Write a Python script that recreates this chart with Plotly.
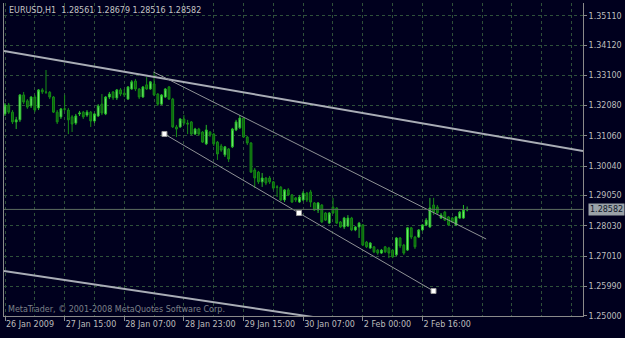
import plotly.graph_objects as go

# ---------------- data (EURUSD H1) ----------------
opens = [1.3180, 1.3210, 1.3186, 1.3153, 1.3160, 1.3244, 1.3224, 1.3207, 1.3237, 1.3200,
         1.3261, 1.3254, 1.3253, 1.3237, 1.3186, 1.3170, 1.3197, 1.3193, 1.3170, 1.3149,
         1.3180, 1.3186, 1.3176, 1.3186, 1.3156, 1.3173, 1.3213, 1.3180, 1.3237, 1.3254,
         1.3234, 1.3261, 1.3250, 1.3230, 1.3264, 1.3291, 1.3264, 1.3237, 1.3278, 1.3264,
         1.3281, 1.3247, 1.3213, 1.3237, 1.3271, 1.3230, 1.3136, 1.3136, 1.3163, 1.3149,
         1.3153, 1.3112, 1.3129, 1.3119, 1.3079, 1.3119, 1.3112, 1.3085, 1.3072, 1.3042,
         1.3062, 1.3069, 1.3126, 1.3133, 1.3166, 1.3102, 1.3082, 1.2991, 1.2984, 1.2951,
         1.2964, 1.2964, 1.2951, 1.2934, 1.2933, 1.2890, 1.2924, 1.2907, 1.2897, 1.2883,
         1.2890, 1.2913, 1.2917, 1.2880, 1.2856, 1.2873, 1.2846, 1.2812, 1.2866, 1.2863,
         1.2816, 1.2799, 1.2802, 1.2829, 1.2789, 1.2799, 1.2806, 1.2748, 1.2728, 1.2732,
         1.2721, 1.2711, 1.2732, 1.2728, 1.2721, 1.2705, 1.2762, 1.2738, 1.2721, 1.2796,
         1.2765, 1.2765, 1.2789, 1.2806, 1.2799, 1.2873, 1.2866, 1.2829, 1.2849, 1.2833,
         1.2829, 1.2806, 1.2829, 1.2829, 1.28561]
highs = [1.3217, 1.3217, 1.3193, 1.3170, 1.3247, 1.3254, 1.3230, 1.3240, 1.3244, 1.3264,
         1.3267, 1.3328, 1.3257, 1.3240, 1.3193, 1.3200, 1.3244, 1.3200, 1.3176, 1.3180,
         1.3190, 1.3190, 1.3193, 1.3190, 1.3183, 1.3213, 1.3247, 1.3240, 1.3254, 1.3257,
         1.3264, 1.3267, 1.3264, 1.3274, 1.3294, 1.3298, 1.3267, 1.3274, 1.3304, 1.3291,
         1.3321, 1.3250, 1.3247, 1.3267, 1.3274, 1.3234, 1.3143, 1.3166, 1.3176, 1.3160,
         1.3156, 1.3133, 1.3133, 1.3122, 1.3143, 1.3122, 1.3116, 1.3089, 1.3079, 1.3072,
         1.3065, 1.3133, 1.3160, 1.3176, 1.3170, 1.3106, 1.3085, 1.2998, 1.2988, 1.2981,
         1.2967, 1.2971, 1.2954, 1.2940, 1.2937, 1.2927, 1.2930, 1.2910, 1.2900, 1.2907,
         1.2920, 1.2917, 1.2924, 1.2883, 1.2883, 1.2876, 1.2849, 1.2849, 1.2897, 1.2866,
         1.2819, 1.2833, 1.2839, 1.2833, 1.2802, 1.2816, 1.2809, 1.2752, 1.2748, 1.2735,
         1.2725, 1.2725, 1.2735, 1.2732, 1.2725, 1.2765, 1.2765, 1.2742, 1.2799, 1.2799,
         1.2769, 1.2792, 1.2809, 1.2829, 1.2897, 1.2897, 1.2873, 1.2846, 1.2853, 1.2836,
         1.2833, 1.2836, 1.2853, 1.2873, 1.28679]
lows = [1.3173, 1.3180, 1.3146, 1.3129, 1.3153, 1.3213, 1.3197, 1.3200, 1.3186, 1.3193,
        1.3247, 1.3247, 1.3230, 1.3183, 1.3146, 1.3163, 1.3190, 1.3112, 1.3119, 1.3143,
        1.3173, 1.3163, 1.3170, 1.3136, 1.3149, 1.3170, 1.3176, 1.3176, 1.3230, 1.3227,
        1.3227, 1.3240, 1.3237, 1.3227, 1.3261, 1.3257, 1.3230, 1.3234, 1.3261, 1.3261,
        1.3240, 1.3207, 1.3210, 1.3234, 1.3227, 1.3133, 1.3102, 1.3133, 1.3143, 1.3112,
        1.3109, 1.3109, 1.3106, 1.3082, 1.3075, 1.3102, 1.3072, 1.3025, 1.3052, 1.3035,
        1.3018, 1.3065, 1.3122, 1.3129, 1.3099, 1.3075, 1.2981, 1.2930, 1.2944, 1.2934,
        1.2940, 1.2944, 1.2924, 1.2900, 1.2886, 1.2883, 1.2903, 1.2880, 1.2883, 1.2880,
        1.2886, 1.2883, 1.2866, 1.2853, 1.2846, 1.2812, 1.2819, 1.2809, 1.2843, 1.2809,
        1.2796, 1.2792, 1.2799, 1.2785, 1.2785, 1.2762, 1.2735, 1.2728, 1.2725, 1.2711,
        1.2705, 1.2708, 1.2711, 1.2694, 1.2694, 1.2701, 1.2728, 1.2705, 1.2718, 1.2758,
        1.2725, 1.2762, 1.2785, 1.2802, 1.2796, 1.2839, 1.2843, 1.2826, 1.2819, 1.2802,
        1.2812, 1.2802, 1.2826, 1.2826, 1.28516]
closes = [1.3210, 1.3186, 1.3153, 1.3160, 1.3244, 1.3220, 1.3203, 1.3237, 1.3193, 1.3261,
          1.3254, 1.3253, 1.3237, 1.3186, 1.3153, 1.3197, 1.3196, 1.3160, 1.3146, 1.3173,
          1.3183, 1.3170, 1.3186, 1.3156, 1.3180, 1.3207, 1.3183, 1.3237, 1.3247, 1.3234,
          1.3261, 1.3247, 1.3244, 1.3271, 1.3288, 1.3264, 1.3237, 1.3271, 1.3264, 1.3288,
          1.3244, 1.3213, 1.3244, 1.3264, 1.3230, 1.3136, 1.3129, 1.3163, 1.3149, 1.3146,
          1.3112, 1.3129, 1.3112, 1.3085, 1.3126, 1.3109, 1.3079, 1.3045, 1.3058, 1.3069,
          1.3028, 1.3129, 1.3153, 1.3166, 1.3102, 1.3082, 1.2984, 1.2964, 1.2951, 1.2964,
          1.2947, 1.2951, 1.2930, 1.2933, 1.2890, 1.2924, 1.2907, 1.2883, 1.2890, 1.2900,
          1.2913, 1.2890, 1.2883, 1.2856, 1.2880, 1.2816, 1.2822, 1.2846, 1.2846, 1.2812,
          1.2799, 1.2829, 1.2829, 1.2789, 1.2799, 1.2812, 1.2738, 1.2732, 1.2745, 1.2715,
          1.2711, 1.2721, 1.2715, 1.2711, 1.2698, 1.2762, 1.2735, 1.2711, 1.2796, 1.2765,
          1.2732, 1.2789, 1.2806, 1.2822, 1.2863, 1.2849, 1.2846, 1.2839, 1.2822, 1.2806,
          1.2816, 1.2833, 1.2849, 1.2856, 1.28582]
bar_index = list(range(len(closes)))

time_label_bars = [0, 16, 32, 48, 64, 80, 96, 112]
time_labels = ["26 Jan 2009", "27 Jan 15:00", "28 Jan 07:00", "28 Jan 23:00",
               "29 Jan 15:00", "30 Jan 07:00", "2 Feb 00:00", "2 Feb 16:00"]
grid_bars = [8, 24, 40, 56, 72, 88, 104, 120, 128, 136, 144, 152]
price_ticks = [1.35110, 1.34120, 1.33100, 1.32080, 1.31060, 1.30040,
               1.29050, 1.28030, 1.27010, 1.25990, 1.25000]

# drawn objects (bar index, price)
trend_upper_x = [-0.27, 155.08]
trend_upper_y = [1.33920, 1.30550]
trend_lower_x = [-0.27, 85.0]
trend_lower_y = [1.26506, 1.24912]
chan_upper_x = [39.84, 129.1]
chan_upper_y = [1.33213, 1.27585]
chan_lower_x = [42.78, 78.88, 114.97]
chan_lower_y = [1.31124, 1.28461, 1.25832]

x_range = [-0.27, 155.08]
y_range = [1.24990, 1.35538]

BG = "#00001e"
GRID = "#2f503a"
TXT = "#bdbdbd"
FONT = "DejaVu Sans"

fig = go.Figure()

fig.add_trace(go.Scatter(x=trend_upper_x, y=trend_upper_y, mode="lines",
                         line=dict(color="#a9adb6", width=2), hoverinfo="skip"))
fig.add_trace(go.Scatter(x=trend_lower_x, y=trend_lower_y, mode="lines",
                         line=dict(color="#a9adb6", width=2), hoverinfo="skip"))
fig.add_trace(go.Scatter(x=chan_upper_x, y=chan_upper_y, mode="lines",
                         line=dict(color="#8f9296", width=1), hoverinfo="skip"))

fig.add_trace(go.Candlestick(
    x=bar_index, open=opens, high=highs, low=lows, close=closes,
    increasing=dict(line=dict(color="#26bb26", width=1), fillcolor="#7ef07e"),
    decreasing=dict(line=dict(color="#158c15", width=1), fillcolor="#0b5e0b"),
    whiskerwidth=0, hoverinfo="skip"))

fig.add_trace(go.Scatter(x=chan_lower_x, y=chan_lower_y, mode="lines+markers",
                         line=dict(color="#8f9296", width=1),
                         marker=dict(symbol="square", size=5, color="#ffffff",
                                     line=dict(color="#9a9a9a", width=1)),
                         hoverinfo="skip"))

last_o, last_h, last_l, last_c = opens[-1], highs[-1], lows[-1], closes[-1]

fig.add_shape(type="line", xref="paper", x0=0, x1=1, yref="y", y0=last_c, y1=last_c,
              line=dict(color="#5d6c60", width=1))

fig.add_annotation(xref="paper", x=1, xanchor="left", xshift=5, yref="y", y=last_c,
                   text=f"{last_c:.5f}", showarrow=False,
                   font=dict(family=FONT, size=8, color="#10182a"),
                   bgcolor="#9aa2a8", borderpad=1)

fig.add_annotation(xref="paper", x=0, xanchor="left", xshift=3, yref="paper", y=1,
                   yanchor="top", yshift=-1,
                   text=f"EURUSD,H1  {last_o:.5f} {last_h:.5f} {last_l:.5f} {last_c:.5f}",
                   showarrow=False, font=dict(family=FONT, size=8, color="#c4c4c4"))

fig.add_annotation(xref="paper", x=0, xanchor="left", xshift=2, yref="paper", y=0,
                   yanchor="bottom", yshift=0,
                   text="MetaTrader, © 2001-2008 MetaQuotes Software Corp.",
                   showarrow=False, font=dict(family=FONT, size=8, color="#7c8088"))

fig.update_layout(
    width=625, height=338,
    margin=dict(l=3, r=41, t=3, b=22),
    paper_bgcolor=BG, plot_bgcolor=BG,
    showlegend=False,
    font=dict(family=FONT, size=8, color=TXT),
    xaxis=dict(range=x_range, tickmode="array", tickvals=time_label_bars,
               ticktext=time_labels, ticklabelposition="outside right",
               tickangle=0,
               ticks="outside", ticklen=4, tickcolor="#8a8a8a",
               showgrid=True, gridcolor=GRID, griddash="3px,3px", gridwidth=1,
               minor=dict(tickvals=grid_bars, showgrid=True, gridcolor=GRID,
                          griddash="3px,3px", ticks=""),
               showline=True, linecolor="#8a8a8a", linewidth=1,
               zeroline=False, rangeslider=dict(visible=False),
               tickfont=dict(family=FONT, size=8, color=TXT)),
    yaxis=dict(range=y_range, side="right", tickmode="array", tickvals=price_ticks,
               ticktext=[f"{v:.5f}" for v in price_ticks],
               ticks="outside", ticklen=3, tickcolor="#8a8a8a",
               showgrid=True, gridcolor=GRID, griddash="3px,3px", gridwidth=1,
               showline=True, linecolor="#8a8a8a", linewidth=1, mirror=True,
               zeroline=False, tickfont=dict(family=FONT, size=8, color=TXT)),
)

fig.write_html("out.html")
